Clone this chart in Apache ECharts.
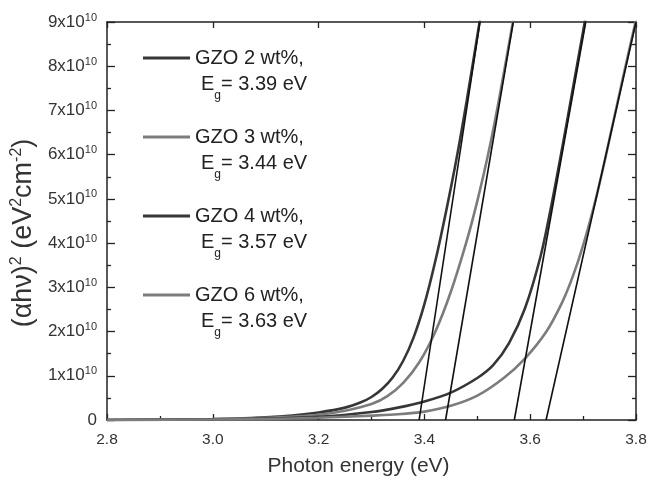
<!DOCTYPE html>
<html>
<head>
<meta charset="utf-8">
<script src="https://cdn.jsdelivr.net/npm/echarts@6/dist/echarts.min.js"></script>
<style>html,body{margin:0;padding:0;background:#fff}#c{width:650px;height:482px}</style>
</head>
<body>
<div id="c"></div>
<script>
// Photon energy (eV) and (alpha h nu)^2 in units of 1e10 eV^2 cm^-2
var seriesNames = ['GZO 2 wt%', 'GZO 3 wt%', 'GZO 4 wt%', 'GZO 6 wt%'];
var bandGaps = ['3.39', '3.44', '3.57', '3.63'];

var energy2 = [2.80, 3.00, 3.10, 3.15, 3.20, 3.25, 3.28, 3.30, 3.32, 3.34, 3.36, 3.38, 3.40, 3.42, 3.44, 3.46, 3.48, 3.505];
var value2  = [0.00, 0.02, 0.06, 0.10, 0.17, 0.28, 0.40, 0.52, 0.70, 0.96, 1.34, 1.88, 2.62, 3.56, 4.66, 5.86, 7.22, 9.05];

var energy3 = [2.80, 3.00, 3.10, 3.20, 3.25, 3.30, 3.33, 3.36, 3.39, 3.42, 3.45, 3.48, 3.50, 3.52, 3.54, 3.568];
var value3  = [0.00, 0.015, 0.05, 0.12, 0.21, 0.36, 0.54, 0.84, 1.30, 1.98, 2.90, 4.05, 4.95, 5.98, 7.18, 9.05];

var energy4 = [2.80, 3.00, 3.10, 3.20, 3.30, 3.35, 3.40, 3.45, 3.50, 3.53, 3.56, 3.59, 3.62, 3.64, 3.66, 3.68, 3.705];
var value4  = [0.00, 0.01, 0.03, 0.07, 0.18, 0.28, 0.42, 0.62, 0.95, 1.24, 1.74, 2.52, 3.72, 4.85, 6.12, 7.45, 9.12];

var energy6 = [2.80, 3.00, 3.10, 3.20, 3.30, 3.35, 3.40, 3.45, 3.50, 3.55, 3.59, 3.63, 3.66, 3.68, 3.70, 3.72, 3.735, 3.75, 3.775, 3.80];
var value6  = [0.00, 0.01, 0.02, 0.05, 0.10, 0.13, 0.19, 0.32, 0.55, 0.95, 1.39, 1.99, 2.65, 3.23, 3.95, 4.81, 5.55, 6.36, 7.72, 9.05];

// linear extrapolation lines: [energy at 0, energy at top]
var fitStart = [3.39, 3.44, 3.57, 3.63];
var fitEnd   = [3.505, 3.568, 3.705, 3.80];
var fitTop   = 9;

function pairs(xs, ys) { return xs.map(function (x, i) { return [x, ys[i]]; }); }

var curveColors = ['#363636', '#7c7c7c', '#363636', '#7c7c7c'];
var curveData = [pairs(energy2, value2), pairs(energy3, value3), pairs(energy4, value4), pairs(energy6, value6)];

var series = [];
for (var i = 0; i < 4; i++) {
  series.push({
    name: seriesNames[i], type: 'line', data: curveData[i], showSymbol: false,
    smooth: 0.3, lineStyle: { color: curveColors[i], width: 2.6 },
    itemStyle: { color: curveColors[i] }, z: 3, silent: true
  });
}
for (var j = 0; j < 4; j++) {
  series.push({
    name: 'fit' + j, type: 'line', data: [[fitStart[j], 0], [fitEnd[j], fitTop]], showSymbol: false,
    lineStyle: { color: '#111', width: 1.6 }, z: 4, silent: true
  });
}

var FONT = 'Liberation Sans';
var chart = echarts.init(document.getElementById('c'));
chart.setOption({
  animation: false,
  backgroundColor: '#fff',
  textStyle: { fontFamily: FONT },
  grid: { left: 107, right: 14, top: 22, bottom: 60 },
  legend: {
    data: seriesNames, orient: 'vertical', left: 143, top: 22, padding: 0, itemGap: -1,
    icon: 'rect', itemWidth: 47, itemHeight: 3,
    formatter: function (name) {
      var k = seriesNames.indexOf(name);
      return '{b| }\n{t|' + name + ',}\n{i|}{t|E}{g|g}{t|= ' + bandGaps[k] + ' eV}';
    },
    textStyle: {
      rich: {
        b: { fontSize: 20, lineHeight: 26, fontFamily: FONT },
        t: { fontSize: 20, lineHeight: 26, color: '#222', fontFamily: FONT },
        i: { width: 6, lineHeight: 26 },
        g: { fontSize: 12, lineHeight: 26, verticalAlign: 'top', padding: [19, 0, 0, 0], color: '#222', fontFamily: FONT }
      }
    }
  },
  xAxis: [{
    type: 'value', min: 2.8, max: 3.8, interval: 0.2,
    name: 'Photon energy (eV)', nameLocation: 'middle', nameGap: 36,
    nameTextStyle: { fontSize: 21, color: '#333', fontFamily: FONT, padding: [0, 26, 0, 0] },
    axisLine: { show: true, lineStyle: { color: '#222', width: 1.5 } },
    axisTick: { show: true, inside: true, length: 6, lineStyle: { color: '#222', width: 1.3 } },
    minorTick: { show: true, splitNumber: 2, length: 4, lineStyle: { color: '#222', width: 1.3 } },
    axisLabel: { fontSize: 15.5, color: '#333', margin: 12, formatter: function (v) { return v.toFixed(1); } },
    splitLine: { show: false }
  }, {
    type: 'value', position: 'top', min: 2.8, max: 3.8, interval: 0.2,
    axisLine: { show: true, onZero: false, lineStyle: { color: '#222', width: 1.5 } },
    axisTick: { show: true, inside: true, length: 6, lineStyle: { color: '#222', width: 1.3 } },
    axisLabel: { show: false }, splitLine: { show: false }
  }],
  yAxis: [{
    type: 'value', min: 0, max: 9, interval: 1,
    name: '{t|(αhν)}{s|2}{t| (eV}{s|2}{t|cm}{s|-2}{t|)}', nameLocation: 'middle', nameGap: 68, nameRotate: 90,
    nameTextStyle: {
      padding: [0, 24, 0, 0],
      rich: {
        t: { fontSize: 27, lineHeight: 30, color: '#333', fontFamily: FONT },
        s: { fontSize: 16, lineHeight: 16, verticalAlign: 'top', color: '#333', fontFamily: FONT }
      }
    },
    axisLine: { show: true, lineStyle: { color: '#222', width: 1.5 } },
    axisTick: { show: true, inside: true, length: 8, lineStyle: { color: '#222', width: 1.3 } },
    minorTick: { show: true, splitNumber: 2, length: 4, lineStyle: { color: '#222', width: 1.3 } },
    axisLabel: {
      margin: 10,
      formatter: function (v) { return v === 0 ? '{n|0}' : '{n|' + v + 'x10}{s|10}'; },
      rich: {
        n: { fontSize: 17, lineHeight: 20, color: '#333', fontFamily: FONT },
        s: { fontSize: 11, lineHeight: 11, verticalAlign: 'top', color: '#333', fontFamily: FONT }
      }
    },
    splitLine: { show: false }
  }, {
    type: 'value', position: 'right', min: 0, max: 9, interval: 1,
    axisLine: { show: true, onZero: false, lineStyle: { color: '#222', width: 1.5 } },
    axisTick: { show: true, inside: true, length: 8, lineStyle: { color: '#222', width: 1.3 } },
    minorTick: { show: true, splitNumber: 2, length: 4, lineStyle: { color: '#222', width: 1.3 } },
    axisLabel: { show: false }, splitLine: { show: false }
  }],
  series: series
});
</script>
</body>
</html>
